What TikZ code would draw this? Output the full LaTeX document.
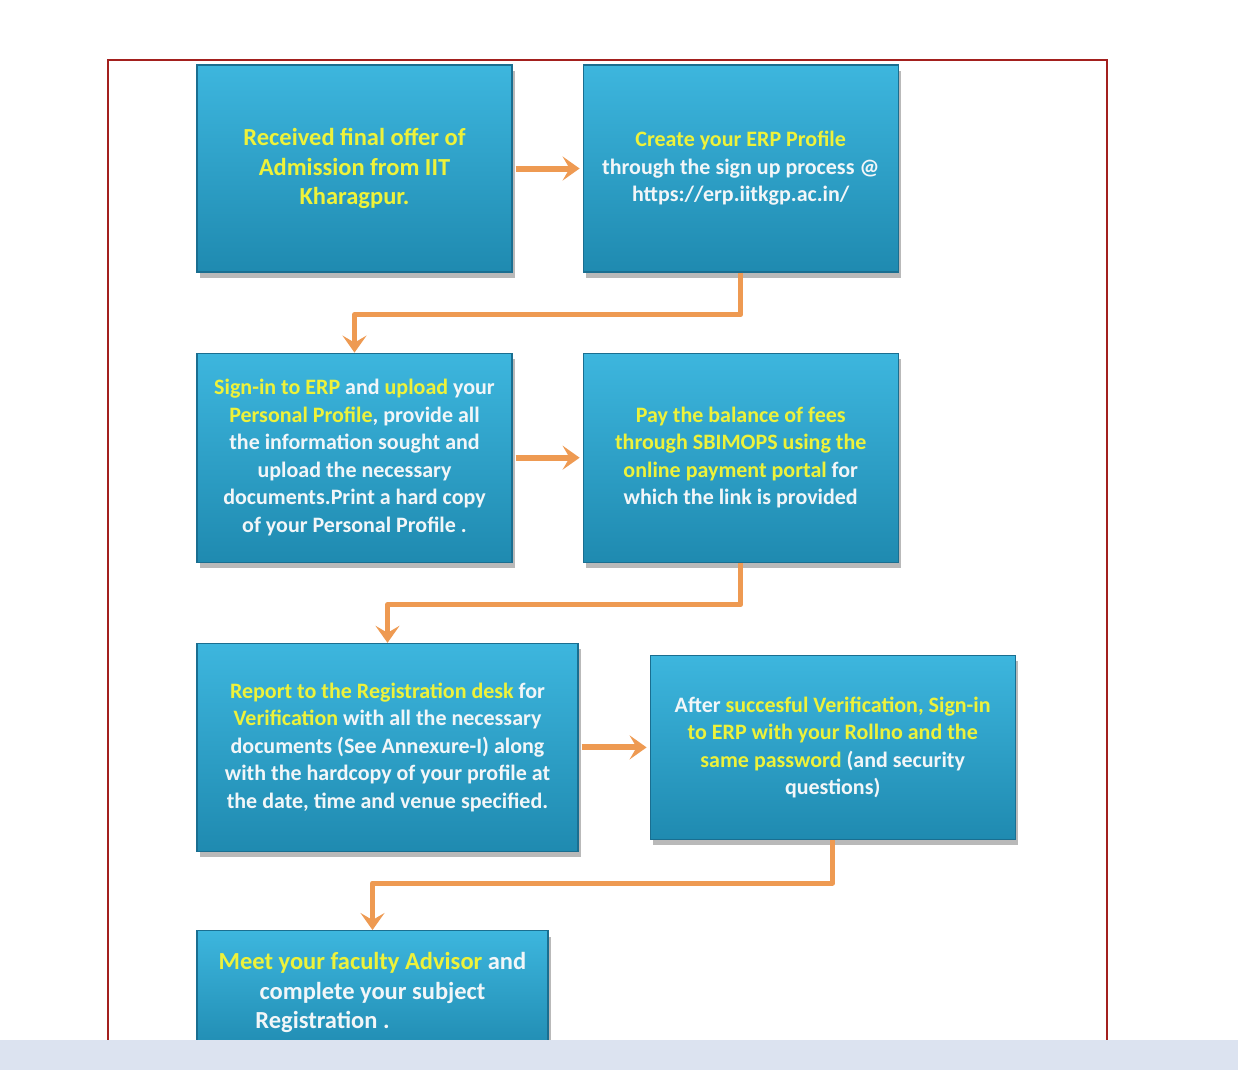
\documentclass[tikz,border=0pt]{standalone}
\usepackage{fontspec}
\setmainfont{Carlito}
\usetikzlibrary{arrows.meta,positioning,shadows}

\definecolor{boxtop}{HTML}{3DB6DE}
\definecolor{boxbot}{HTML}{1F8AB0}
\definecolor{boxedge}{HTML}{1A6E90}
\definecolor{hiyel}{HTML}{EEF23A}
\definecolor{txtwht}{HTML}{F2F6F8}
\definecolor{arrorg}{HTML}{EE9A52}
\definecolor{frmred}{HTML}{A3201E}
\definecolor{bandblu}{HTML}{DCE3F0}

\newcommand{\hl}[1]{\textcolor{hiyel}{#1}}

\begin{document}
\begin{tikzpicture}[
  x=1pt, y=-1pt,
  font=\fontsize{22}{27.5}\selectfont\bfseries,
  stepbox/.style={draw=boxedge, line width=1.2pt, top color=boxtop, bottom color=boxbot,
    text=txtwht, align=center, inner sep=4pt, minimum width=315pt, minimum height=207pt,
    drop shadow={shadow xshift=3pt, shadow yshift=-6pt, opacity=.55}},
  bigtxt/.style={font=\fontsize{24.5}{29.5}\selectfont\bfseries},
  arr/.style={-{Stealth[length=17pt, width=24pt, inset=7pt]}, line width=6pt, arrorg},
  elb/.style={-{Stealth[length=17pt, width=24pt, inset=7pt]}, line width=5pt, arrorg, line join=round}
]
\useasboundingbox (0,0) rectangle (1238,1070);
\fill[white] (0,0) rectangle (1238,1070);
% frame
\draw[frmred, line width=2pt] (108,60) rectangle (1107,1065);
% row 1
\node[stepbox, bigtxt] (offer) at (354.5,168.5) {\hl{Received final offer of}\\\hl{Admission from IIT}\\\hl{Kharagpur.}};
\node[stepbox, right=70pt of offer] (erp) {\hl{Create your ERP Profile}\\through the sign up process @\\https://erp.iitkgp.ac.in/};
% row 2
\node[stepbox, below=80pt of offer, minimum height=209pt] (sign) {\hl{Sign-in to ERP} and \hl{upload} your\\\hl{Personal Profile}, provide all\\the information sought and\\upload the necessary\\documents.Print a hard copy\\of your Personal Profile .};
\node[stepbox, right=70pt of sign, minimum height=209pt] (fees) {\hl{Pay the balance of fees}\\\hl{through SBIMOPS using the}\\\hl{online payment portal} for\\which the link is provided};
% row 3
\node[stepbox, anchor=north west, minimum width=381pt, minimum height=208pt] (desk) at ([yshift=-80pt]sign.south west) {\hl{Report to the Registration desk} for\\\hl{Verification} with all the necessary\\documents (See Annexure-I) along\\with the hardcopy of your profile at\\the date, time and venue specified.};
\node[stepbox, right=71pt of desk, minimum width=365pt, minimum height=184pt] (verif) {After \hl{succesful Verification, Sign-in}\\\hl{to ERP with your Rollno and the}\\\hl{same password} (and security\\questions)};
% row 4
\node[stepbox, bigtxt, anchor=north west, minimum width=351pt, minimum height=124pt] (advisor) at ([yshift=-78pt]desk.south west) {\hl{Meet your faculty Advisor} and\\complete your subject\\Registration .\hspace*{100pt}};
% connectors
\draw[arr, shorten <=3pt, shorten >=3pt] (offer) -- (erp);
\draw[arr, shorten <=3pt, shorten >=3pt] (sign) -- (fees);
\draw[arr, shorten <=3pt, shorten >=3pt] (desk) -- (verif);
\draw[elb] (erp.south) -- ++(0,-42pt) -| (sign.north);
\draw[elb] (fees.south) -- ++(0,-42pt) -| (desk.north);
\draw[elb] (verif.south) -- ++(0,-43pt) -| (advisor.north);
% bottom band
\fill[bandblu] (0,1040) rectangle (1238,1070);
\end{tikzpicture}
\end{document}
